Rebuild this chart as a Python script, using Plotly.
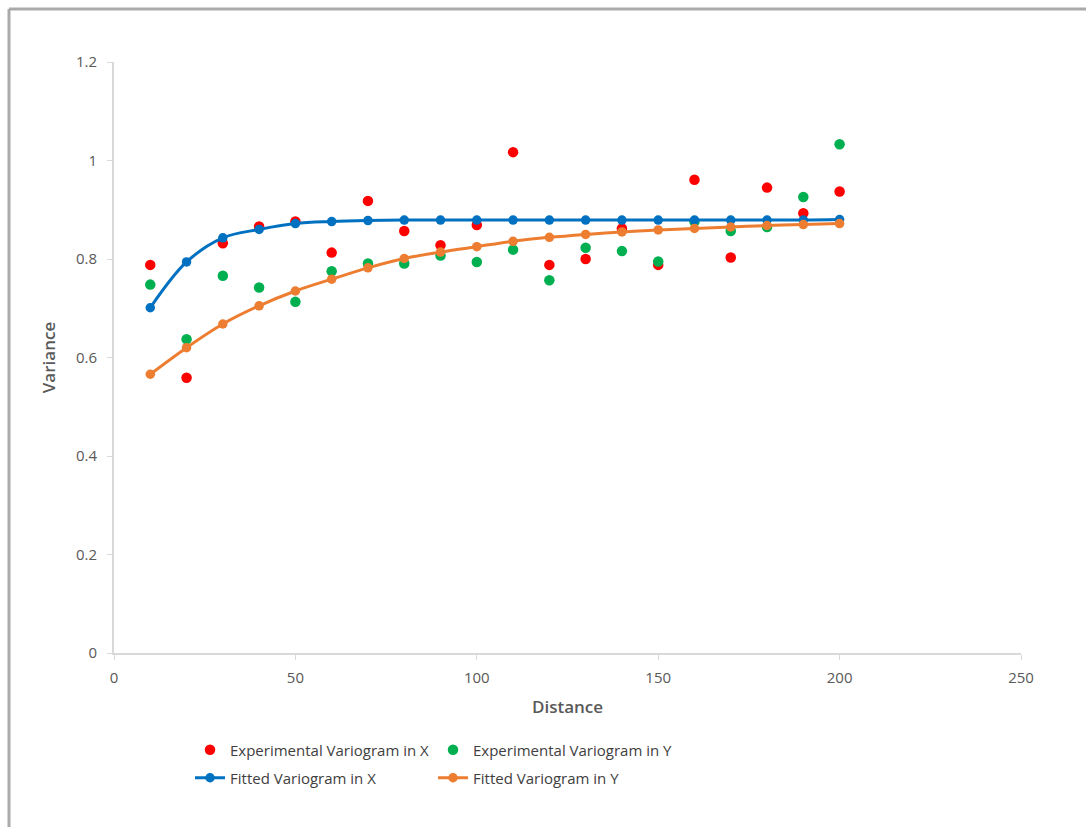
import plotly.graph_objects as go

distance = [10, 20, 30, 40, 50, 60, 70, 80, 90, 100, 110, 120, 130, 140, 150, 160, 170, 180, 190, 200]
exp_x = [0.788, 0.559, 0.832, 0.866, 0.876, 0.813, 0.918, 0.857, 0.828, 0.869, 1.017, 0.788, 0.800,
         0.862, 0.788, 0.961, 0.803, 0.945, 0.893, 0.937]
exp_y = [0.748, 0.637, 0.766, 0.742, 0.713, 0.775, 0.791, 0.791, 0.807, 0.794, 0.819, 0.757, 0.823,
         0.816, 0.795, 0.876, 0.857, 0.865, 0.926, 1.033]
fit_x = [0.701, 0.794, 0.843, 0.860, 0.872, 0.876, 0.878, 0.879, 0.879, 0.879, 0.879, 0.879, 0.879,
         0.879, 0.879, 0.879, 0.879, 0.879, 0.879, 0.880]
fit_y = [0.566, 0.620, 0.668, 0.705, 0.735, 0.759, 0.782, 0.801, 0.814, 0.825, 0.836, 0.844, 0.850,
         0.855, 0.859, 0.862, 0.865, 0.868, 0.870, 0.872]

x_ticks = [0, 50, 100, 150, 200, 250]
y_ticks = [0, 0.2, 0.4, 0.6, 0.8, 1.0, 1.2]
y_tick_text = ["0", "0.2", "0.4", "0.6", "0.8", "1", "1.2"]

FONT = "Open Sans"
TXT = "#595959"

fig = go.Figure()
fig.add_trace(go.Scatter(x=distance, y=exp_x, mode="markers", name="Experimental Variogram in X",
                         marker=dict(color="#ff0000", size=10.5), legend="legend"))
fig.add_trace(go.Scatter(x=distance, y=exp_y, mode="markers", name="Experimental Variogram in Y",
                         marker=dict(color="#00b050", size=10.5), legend="legend"))
fig.add_trace(go.Scatter(x=distance, y=fit_x, mode="lines+markers", name="Fitted Variogram in X",
                         line=dict(color="#0070c0", width=3, shape="spline"),
                         marker=dict(color="#0070c0", size=9.5), legend="legend2"))
fig.add_trace(go.Scatter(x=distance, y=fit_y, mode="lines+markers", name="Fitted Variogram in Y",
                         line=dict(color="#ed7d31", width=3, shape="spline"),
                         marker=dict(color="#ed7d31", size=9.5), legend="legend2"))

L, R, T, B = 114, 65, 62, 174
W, H = 1086, 827
pw = W - L - R
ph = H - T - B

def px(xp):
    return (xp - L) / pw

def py(yp):
    return (H - B - yp) / ph

leg_common = dict(orientation="h", xanchor="left", yanchor="middle",
                  font=dict(family=FONT, size=15, color="#404040"),
                  entrywidth=198, entrywidthmode="pixels", bgcolor="rgba(0,0,0,0)")

fig.update_layout(
    width=W, height=H,
    margin=dict(l=L, r=R, t=T, b=B),
    paper_bgcolor="white", plot_bgcolor="white",
    font=dict(family=FONT, color=TXT),
    legend=dict(x=px(190), y=py(750), **leg_common),
    legend2=dict(x=px(190), y=py(778), **leg_common),
    xaxis=dict(range=[0, 250], tickvals=x_ticks, showgrid=False, zeroline=False,
               showline=True, linecolor="#d9d9d9", linewidth=2,
               ticks="outside", ticklen=5, tickcolor="#d9d9d9", tickwidth=1,
               ticklabelstandoff=5,
               tickfont=dict(family=FONT, size=15, color=TXT),
               title=dict(text="Distance", font=dict(family=FONT, size=17, color=TXT, weight=600),
                          standoff=15)),
    yaxis=dict(range=[0, 1.2], tickvals=y_ticks, ticktext=y_tick_text, showgrid=False,
               zeroline=False, showline=True, linecolor="#d9d9d9", linewidth=2,
               ticks="outside", ticklen=5, tickcolor="#d9d9d9", tickwidth=1,
               ticklabelstandoff=7,
               tickfont=dict(family=FONT, size=15, color=TXT),
               title=dict(text="Variance", font=dict(family=FONT, size=17, color=TXT, weight=600),
                          standoff=16)),
    shapes=[dict(type="line", xref="paper", yref="paper", x0=px(9), x1=px(W + 20), y0=py(9), y1=py(9),
                 line=dict(color="#aaaaaa", width=3)),
            dict(type="line", xref="paper", yref="paper", x0=px(9), x1=px(9), y0=py(9), y1=py(H + 20),
                 line=dict(color="#aaaaaa", width=3))],
)

fig.write_html("out.html")
